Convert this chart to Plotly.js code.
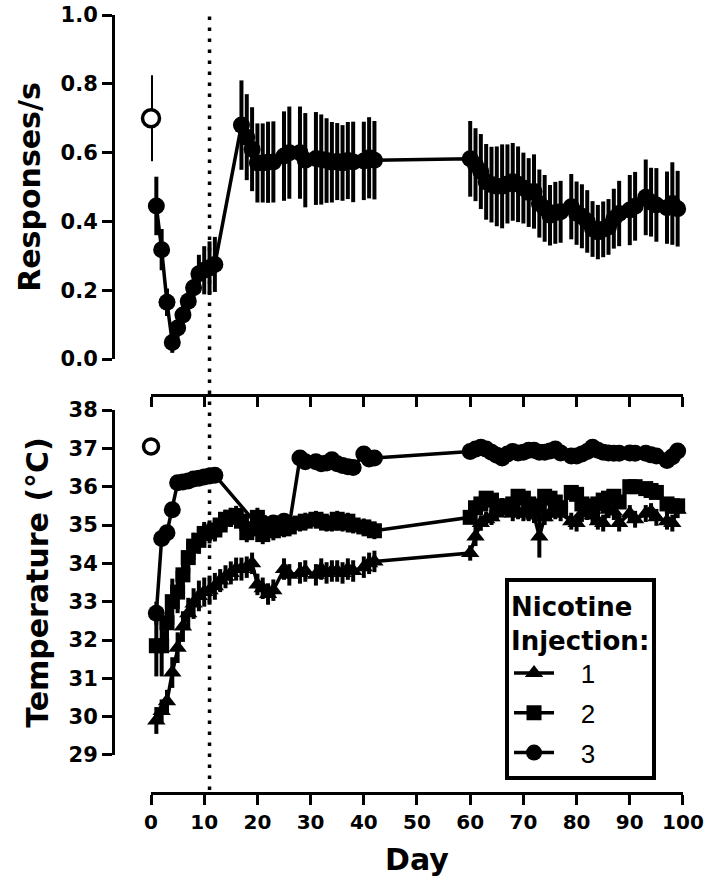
<!DOCTYPE html>
<html>
<head>
<meta charset="utf-8">
<script src="https://cdn.plot.ly/plotly-3.0.1.min.js"></script>
<style>html,body{margin:0;padding:0;background:#fff;}</style>
</head>
<body>
<div id="chart" style="width:709px;height:890px;"></div>
<script>
// ---------- data ----------
const dividerDay = 11;
const dayTicks = [0,10,20,30,40,50,60,70,80,90,100];

const baselineDay = [0];
const baselineResp = [0.70];
const baselineRespErr = [0.125];
const baselineTemp = [37.05];

const respDays = [1,2,3,4,5,6,7,8,9,10,11,12,17,18,19,20,21,22,23,25,26,28,29,31,32,33,34,35,36,37,38,40,41,42,60,61,62,63,64,65,66,67,68,69,70,71,72,73,74,75,76,77,79,80,81,82,83,84,85,86,87,88,90,91,93,94,95,97,98,99];
const respMean = [0.445,0.318,0.165,0.048,0.090,0.128,0.168,0.207,0.248,0.258,0.265,0.275,
  0.680,0.645,0.610,0.570,0.570,0.572,0.573,0.590,0.600,0.600,0.578,0.583,0.580,0.577,0.572,0.574,0.570,0.577,0.573,0.576,0.585,0.578,
  0.582,0.565,0.545,0.515,0.507,0.502,0.502,0.509,0.515,0.508,0.497,0.484,0.487,0.452,0.438,0.418,0.425,0.428,
  0.443,0.424,0.415,0.400,0.378,0.369,0.377,0.384,0.408,0.423,0.433,0.444,0.470,0.456,0.448,0.440,0.452,0.437];
const respErr = [0.085,0.060,0.040,0.030,0.030,0.035,0.040,0.050,0.055,0.070,0.077,0.080,
  0.130,0.125,0.122,0.115,0.115,0.118,0.118,0.130,0.134,0.134,0.137,0.135,0.131,0.123,0.117,0.112,0.110,0.112,0.117,0.114,0.118,0.114,
  0.110,0.106,0.109,0.110,0.110,0.116,0.122,0.115,0.113,0.110,0.103,0.100,0.108,0.099,0.097,0.088,0.090,0.090,
  0.095,0.092,0.093,0.091,0.081,0.079,0.081,0.081,0.087,0.095,0.102,0.100,0.110,0.100,0.107,0.105,0.120,0.110];

const tempDays = [1,2,3,4,5,6,7,8,9,10,11,12,13,14,15,16,17,18,19,20,21,22,23,25,26,28,29,31,32,33,34,35,36,37,38,40,41,42,60,61,62,63,64,65,66,67,68,69,70,71,72,73,74,75,76,77,79,80,81,82,83,84,85,86,87,88,90,91,93,94,95,97,98,99];
const temp1 = [29.90,30.15,30.40,31.15,31.80,32.35,32.70,32.95,33.15,33.25,33.30,33.40,33.55,33.65,33.75,33.85,33.85,33.90,34.00,33.45,33.35,33.20,33.30,
  33.85,33.70,33.75,33.80,33.70,33.85,33.75,33.80,33.80,33.75,33.85,33.80,33.90,34.00,34.05,
  34.27,34.70,35.05,35.15,35.20,35.30,35.50,35.40,35.30,35.35,35.30,35.30,35.25,34.70,35.20,35.30,35.35,35.30,
  35.10,35.05,35.30,35.35,35.25,35.10,35.05,35.40,35.35,35.05,35.30,35.15,35.30,35.35,35.20,35.10,35.05,35.40];
const temp1Err = [0.35,0.30,0.30,0.40,0.40,0.40,0.40,0.40,0.40,0.38,0.38,0.35,0.30,0.30,0.30,0.30,0.30,0.28,0.28,0.28,0.28,0.28,0.28,
  0.28,0.28,0.28,0.28,0.28,0.28,0.28,0.28,0.28,0.28,0.28,0.28,0.28,0.28,0.28,
  0.20,0.25,0.20,0.20,0.20,0.20,0.20,0.20,0.20,0.20,0.20,0.20,0.20,0.55,0.20,0.20,0.20,0.20,
  0.22,0.22,0.22,0.22,0.22,0.22,0.22,0.22,0.22,0.22,0.22,0.22,0.22,0.22,0.22,0.22,0.22,0.22];
const temp2 = [31.85,31.85,32.45,33.00,33.25,33.70,34.15,34.45,34.60,34.78,34.82,34.87,35.00,35.15,35.20,35.25,35.10,34.80,34.90,35.20,34.75,34.95,34.85,
  34.90,34.95,35.05,35.10,35.15,35.10,35.05,35.05,35.15,35.05,35.10,35.00,34.95,34.90,34.85,
  35.20,35.45,35.55,35.70,35.65,35.50,35.45,35.50,35.55,35.75,35.70,35.55,35.45,35.50,35.75,35.70,35.60,35.45,
  35.85,35.80,35.55,35.50,35.45,35.55,35.65,35.70,35.75,35.60,36.00,36.00,35.95,35.90,35.85,35.55,35.50,35.50];
const temp2Err = [0.80,0.80,0.60,0.60,0.55,0.50,0.40,0.35,0.35,0.30,0.30,0.30,0.25,0.25,0.25,0.25,0.25,0.25,0.25,0.25,0.25,0.25,0.25,
  0.22,0.22,0.22,0.22,0.22,0.22,0.22,0.22,0.22,0.22,0.22,0.22,0.22,0.22,0.22,
  0.15,0.15,0.15,0.15,0.15,0.15,0.15,0.15,0.15,0.15,0.15,0.15,0.15,0.15,0.15,0.15,0.15,0.15,
  0.15,0.15,0.15,0.15,0.15,0.15,0.15,0.15,0.15,0.15,0.15,0.15,0.15,0.15,0.15,0.15,0.15,0.15];

const temp3Days = [1,2,3,4,5,6,7,8,9,10,11,12,20,21,22,23,25,26,28,29,31,32,33,34,35,36,37,38,40,41,42,60,61,62,63,64,65,66,67,68,69,70,71,72,73,74,75,76,77,79,80,81,82,83,84,85,86,87,88,90,91,93,94,95,97,98,99];
const temp3 = [32.70,34.65,34.80,35.40,36.10,36.12,36.15,36.20,36.22,36.25,36.28,36.30,
  35.00,35.05,34.95,35.05,35.10,35.00,36.75,36.65,36.65,36.60,36.62,36.70,36.60,36.55,36.52,36.50,36.85,36.72,36.75,
  36.92,36.98,37.03,36.98,36.90,36.82,36.75,36.85,36.92,36.88,36.90,36.95,36.95,36.90,36.90,36.93,36.98,36.88,
  36.80,36.80,36.85,36.92,37.03,36.95,36.90,36.88,36.87,36.87,36.88,36.87,36.87,36.83,36.80,36.68,36.78,36.93];
const temp3Err = [0.30,0.15,0.12,0.12,0.10,0.10,0.10,0.10,0.10,0.10,0.10,0.10,
  0.12,0.12,0.12,0.12,0.12,0.12,0.12,0.12,0.12,0.12,0.12,0.12,0.12,0.12,0.12,0.12,0.12,0.12,0.12,
  0.10,0.10,0.10,0.10,0.10,0.10,0.10,0.10,0.10,0.10,0.10,0.10,0.10,0.10,0.10,0.10,0.10,0.10,
  0.10,0.10,0.10,0.10,0.10,0.10,0.10,0.10,0.10,0.10,0.10,0.10,0.10,0.10,0.10,0.10,0.10,0.10];

const seriesNames = ['1','2','3'];

// ---------- styling ----------
const BLACK = '#000';
const NB = '\u00A0\u00A0\u00A0';
const boldTick = {family:'DejaVu Sans', size:21, color:BLACK, weight:'bold'};
const boldTitle = {family:'DejaVu Sans', size:30, color:BLACK, weight:'bold'};
const errStyle = arr => ({type:'data', array:arr, visible:true, color:BLACK, thickness:4, width:0});
const lineStyle = {color:BLACK, width:3.5};

const traces = [
  {x:baselineDay, y:baselineResp, xaxis:'x2', yaxis:'y2', type:'scatter', mode:'markers',
   error_y:errStyle(baselineRespErr), cliponaxis:false, showlegend:false,
   marker:{symbol:'circle', size:17, color:'#fff', line:{color:BLACK, width:3.5}}},
  {x:respDays, y:respMean, xaxis:'x2', yaxis:'y2', type:'scatter', mode:'lines+markers',
   error_y:errStyle(respErr), cliponaxis:false, showlegend:false,
   line:lineStyle, marker:{symbol:'circle', size:17, color:BLACK}},
  {x:baselineDay, y:baselineTemp, xaxis:'x', yaxis:'y', type:'scatter', mode:'markers',
   cliponaxis:false, showlegend:false,
   marker:{symbol:'circle', size:15, color:'#fff', line:{color:BLACK, width:3.5}}},
  {x:tempDays, y:temp1, name:NB + seriesNames[0], legendgroup:'g1', xaxis:'x', yaxis:'y', type:'scatter', mode:'lines+markers',
   error_y:errStyle(temp1Err), cliponaxis:false, line:lineStyle,
   marker:{symbol:'triangle-up', size:16, color:BLACK}},
  {x:tempDays, y:temp2, name:NB + seriesNames[1], legendgroup:'g2', xaxis:'x', yaxis:'y', type:'scatter', mode:'lines+markers',
   error_y:errStyle(temp2Err), cliponaxis:false, line:lineStyle,
   marker:{symbol:'square', size:15, color:BLACK}},
  {x:temp3Days, y:temp3, name:NB + seriesNames[2], legendgroup:'g3', xaxis:'x', yaxis:'y', type:'scatter', mode:'lines+markers',
   error_y:errStyle(temp3Err), cliponaxis:false, line:lineStyle,
   marker:{symbol:'circle', size:17, color:BLACK}}
];

const axisCommon = {showgrid:false, zeroline:false, showline:true, linecolor:BLACK, linewidth:3,
  ticks:'outside', ticklen:10, tickwidth:3, tickcolor:BLACK, fixedrange:true};

const layout = {
  width:709, height:890,
  margin:{l:0, r:0, t:0, b:0},
  paper_bgcolor:'#fff', plot_bgcolor:'rgba(0,0,0,0)',
  font:{family:'DejaVu Sans', color:BLACK},
  xaxis:Object.assign({}, axisCommon, {
    domain:[0.2130,0.9633], range:[0,100], tickmode:'array', tickvals:dayTicks,
    anchor:'free', position:0.1090, tickfont:{family:'DejaVu Sans', size:20, color:BLACK, weight:'bold'},
    title:{text:'Day', font:boldTitle, standoff:16}
  }),
  xaxis2:Object.assign({}, axisCommon, {
    domain:[0.2130,0.9633], range:[0,100], tickmode:'array', tickvals:dayTicks,
    anchor:'free', position:0.5562, showticklabels:false
  }),
  yaxis:Object.assign({}, axisCommon, {
    domain:[0.1517,0.5393], range:[29,38], tickmode:'linear', tick0:29, dtick:1,
    anchor:'free', position:0.1594, tickfont:boldTick,
    title:{text:'Temperature (°C)', font:boldTitle, standoff:10}
  }),
  yaxis2:Object.assign({}, axisCommon, {
    domain:[0.5966,0.9831], range:[0,1], tickmode:'linear', tick0:0, dtick:0.2, tickformat:'.1f',
    anchor:'free', position:0.1594, tickfont:boldTick,
    title:{text:'Responses/s', font:boldTitle, standoff:10}
  }),
  shapes:[{type:'line', xref:'x', yref:'paper', x0:dividerDay, x1:dividerDay, y0:0.1124, y1:0.9885,
    line:{color:BLACK, width:3.5, dash:'3.5px,7.5px'}}],
  legend:{x:0.7123, y:0.3506, xanchor:'left', yanchor:'top', bgcolor:'#fff', bordercolor:BLACK, borderwidth:4,
    font:{family:'Liberation Sans', size:26, color:BLACK}, tracegroupgap:3, itemwidth:40,
    title:{text:'Nicotine<br>Injection:', font:{family:'DejaVu Sans', size:26, color:BLACK, weight:'bold'}}},
  showlegend:true
};

Plotly.newPlot('chart', traces, layout, {staticPlot:true, displayModeBar:false});
</script>
</body>
</html>
